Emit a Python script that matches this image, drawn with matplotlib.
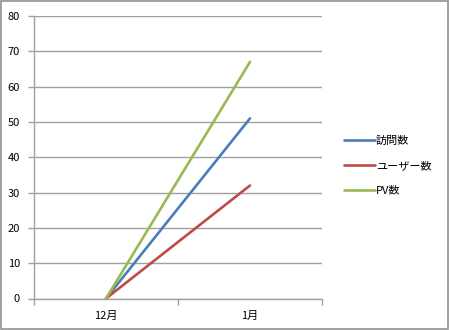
import matplotlib.pyplot as plt
from matplotlib.patches import Rectangle

plt.rcParams['font.family'] = ['Noto Sans CJK JP', 'DejaVu Sans']

months = ['12月', '1月']
visits = [0, 51]
users = [0, 32]
pv = [0, 67]
names = ['訪問数', 'ユーザー数', 'PV数']
colors = ['#4A7EBB', '#BE4B48', '#98B954']

fig = plt.figure(figsize=(4.5, 3.3), dpi=100)
ax = fig.add_axes([34 / 450, 31.5 / 330, 288 / 450, 282.5 / 330])

x = range(len(months))
for ys, name, c in zip([visits, users, pv], names, colors):
    ax.plot(x, ys, color=c, lw=1.9, label=name, solid_capstyle='round')

grid_c = '#A0A0A0'
ax.set_xlim(-0.5, 1.5)
ax.set_ylim(0, 80)
ax.set_yticks(range(0, 81, 10))
ax.yaxis.grid(True, color=grid_c, lw=1)
ax.set_axisbelow(True)
ax.set_xticks(list(x))
ax.set_xticklabels(months)
ax.set_xticks([-0.5, 0.5, 1.5], minor=True)
ax.tick_params(axis='x', which='major', length=0, pad=9, labelsize=8)
ax.tick_params(axis='x', which='minor', length=4, color=grid_c, width=1)
ax.tick_params(axis='y', length=4, color=grid_c, width=1, labelsize=8, pad=6)
for s in ['top', 'right']:
    ax.spines[s].set_visible(False)
for s in ['left', 'bottom']:
    ax.spines[s].set_color(grid_c)
    ax.spines[s].set_linewidth(1)

ax.legend(loc='center left', bbox_to_anchor=(1.04, 0.47), frameon=False,
          fontsize=8, handlelength=2.8, handletextpad=0.1, labelspacing=1.35)

fig.patches.append(Rectangle((0.002, 0.003), 0.993, 0.994, transform=fig.transFigure,
                             fill=False, edgecolor='#909090', lw=1.2))
fig.savefig('out.png', dpi=100)
